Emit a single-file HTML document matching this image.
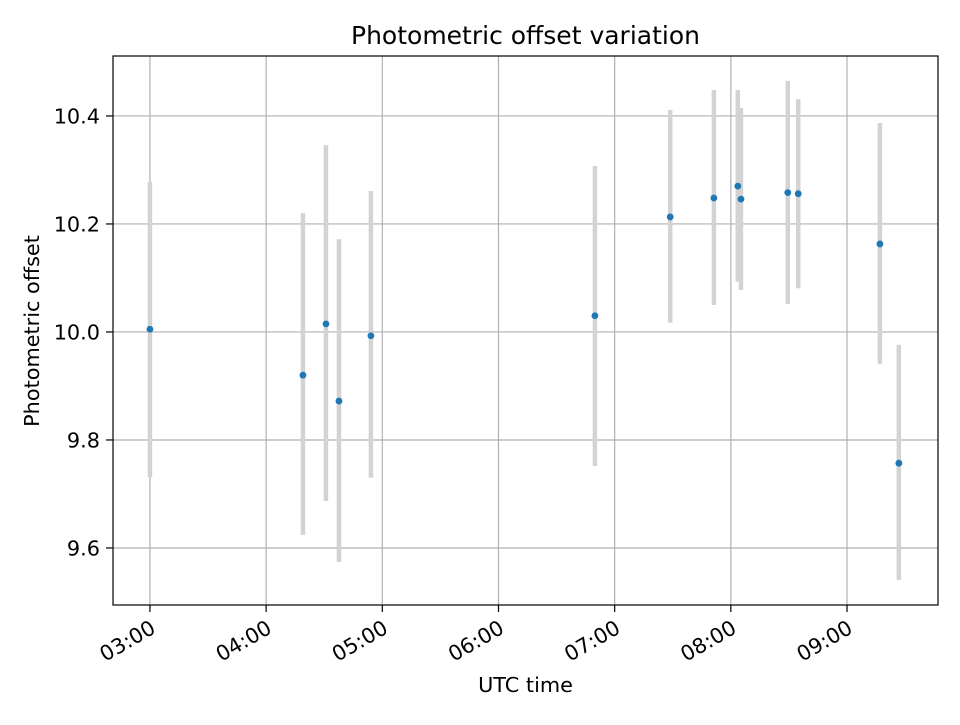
<!DOCTYPE html>
<html><head><meta charset="utf-8"><style>
body{margin:0;background:#fff}
svg text{font-family:"DejaVu Sans","Liberation Sans",sans-serif;fill:#000}
</style></head><body>
<svg id="chart" width="960" height="720" viewBox="0 0 960 720" xmlns="http://www.w3.org/2000/svg"></svg>
<script>
const times = [3.00, 4.317, 4.515, 4.627, 4.902, 6.83, 7.478, 7.854, 8.06, 8.087, 8.49, 8.58, 9.283, 9.446];
const values = [10.005, 9.92, 10.015, 9.872, 9.993, 10.03, 10.213, 10.248, 10.27, 10.246, 10.258, 10.256, 10.163, 9.757];
const errLow = [9.731, 9.624, 9.687, 9.574, 9.730, 9.752, 10.017, 10.05, 10.093, 10.078, 10.052, 10.081, 9.941, 9.541];
const errHigh = [10.278, 10.22, 10.346, 10.172, 10.261, 10.307, 10.411, 10.448, 10.448, 10.415, 10.465, 10.431, 10.387, 9.976];
const xTicks = [3, 4, 5, 6, 7, 8, 9];
const xTickLabels = ["03:00", "04:00", "05:00", "06:00", "07:00", "08:00", "09:00"];
const yTicks = [9.6, 9.8, 10.0, 10.2, 10.4];
const yTickLabels = ["9.6", "9.8", "10.0", "10.2", "10.4"];

const L = 113, R = 938, T = 56, B = 605;
const xMin = 2.682, xMax = 9.783, yMin = 9.4944, yMax = 10.511;
const xs = h => L + (h - xMin) / (xMax - xMin) * (R - L);
const ys = v => B - (v - yMin) / (yMax - yMin) * (B - T);
const svg = document.getElementById('chart');
const NS = 'http://www.w3.org/2000/svg';
const FS = 20.8;
function mk(tag, attrs, parent) {
  const e = document.createElementNS(NS, tag);
  for (const k in attrs) e.setAttribute(k, attrs[k]);
  (parent || svg).appendChild(e);
  return e;
}
xTicks.forEach((t, i) => {
  const g = mk('line', {x1: xs(t), x2: xs(t), y1: T, y2: B, stroke: '#b0b0b0', 'stroke-width': 1.2});
  
  
  const tk = mk('line', {x1: xs(t), x2: xs(t), y1: B, y2: B + 7, stroke: '#000', 'stroke-width': 1.2});
  
  
  const x = xs(t) + 7, y = B + 27;
  const tx = mk('text', {x: x, y: y, 'font-size': FS, 'text-anchor': 'end', transform: `rotate(-30 ${x} ${y})`});
  tx.textContent = xTickLabels[i];
  
  
});
yTicks.forEach((t, i) => {
  const g = mk('line', {x1: L, x2: R, y1: ys(t), y2: ys(t), stroke: '#b0b0b0', 'stroke-width': 1.2});
  
  
  const tk = mk('line', {x1: L - 7, x2: L, y1: ys(t), y2: ys(t), stroke: '#000', 'stroke-width': 1.2});
  
  
  const tx = mk('text', {x: L - 13, y: ys(t) + 7.5, 'font-size': FS, 'text-anchor': 'end'});
  tx.textContent = yTickLabels[i];
  
  
});
times.forEach((t, i) => {
  const e = mk('line', {x1: xs(t), x2: xs(t), y1: ys(errLow[i]), y2: ys(errHigh[i]), stroke: '#d3d3d3', 'stroke-width': 4.5});
  
  
});
times.forEach((t, i) => {
  const p = mk('circle', {cx: xs(t), cy: ys(values[i]), r: 3.4, fill: '#1f77b4'});
  
  
});
const frame = mk('rect', {x: L, y: T, width: R - L, height: B - T, fill: 'none', stroke: '#000', 'stroke-width': 1.2});


const title = mk('text', {x: (L + R) / 2, y: 44, 'font-size': 25, 'text-anchor': 'middle'});
title.textContent = 'Photometric offset variation';


const xt = mk('text', {x: (L + R) / 2, y: 692, 'font-size': FS, 'text-anchor': 'middle'});
xt.textContent = 'UTC time';


const yx = 39, yc = 331;
const yt = mk('text', {x: yx, y: yc, 'font-size': FS, 'text-anchor': 'middle', transform: `rotate(-90 ${yx} ${yc})`});
yt.textContent = 'Photometric offset';


</script>
</body></html>
